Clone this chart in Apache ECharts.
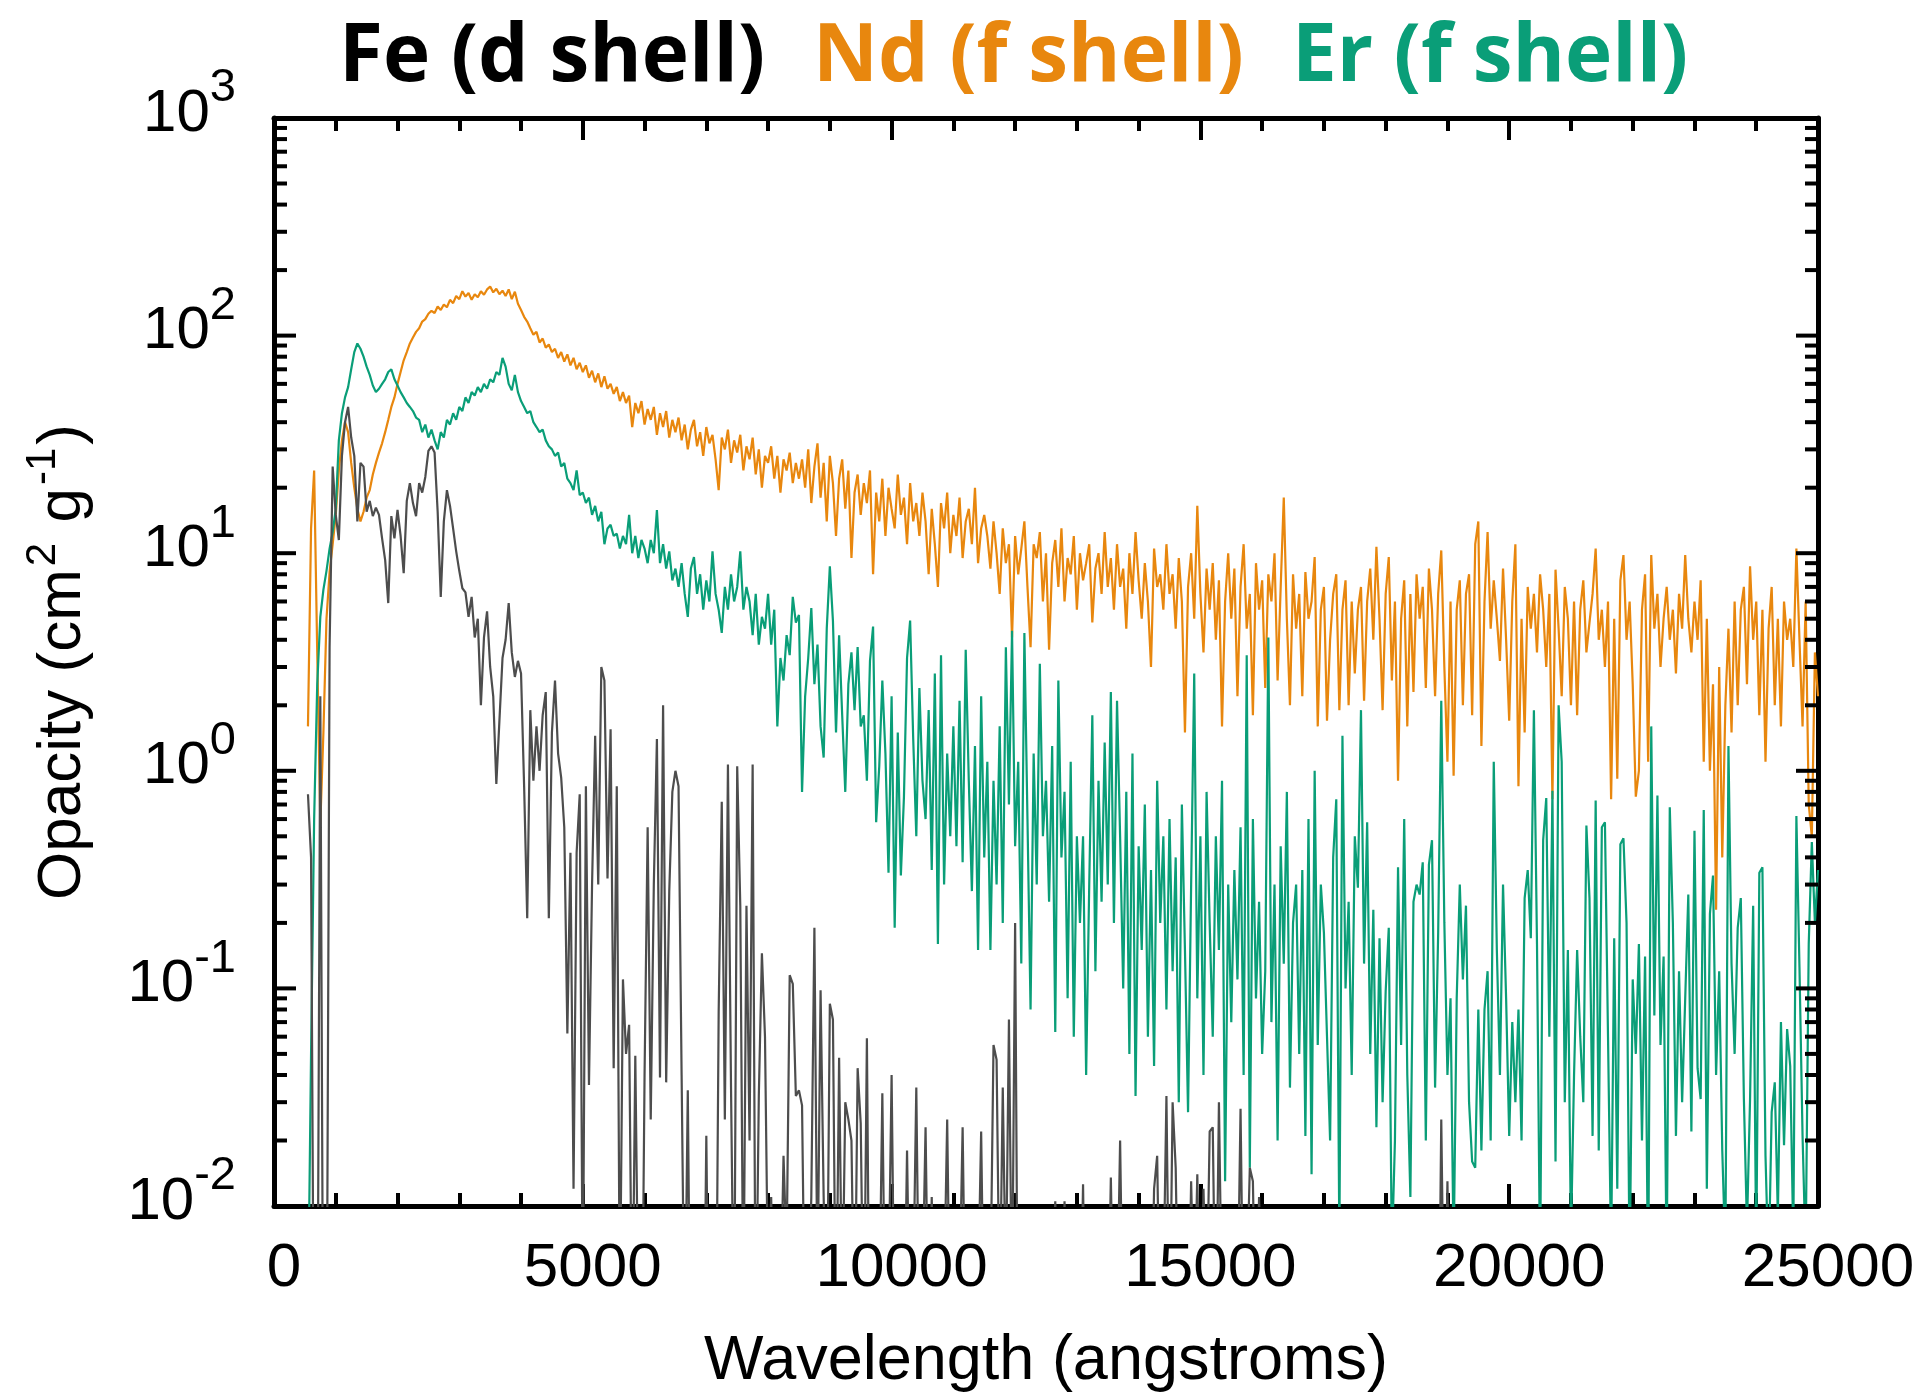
<!DOCTYPE html>
<html>
<head>
<meta charset="utf-8">
<script src="https://cdn.jsdelivr.net/npm/echarts@6/dist/echarts.min.js"></script>
<style>
  html, body { margin: 0; padding: 0; background: #ffffff; }
  #chart { width: 1927px; height: 1396px; }
</style>
</head>
<body>
<div id="chart"></div>
<script>
// Wavelength grid (angstroms): every series is sampled from this start at this spacing
const wavelengthStart = 550;
const wavelengthStep = 50;

// Opacity (cm^2 g^-1), one row per 1000 angstroms
const ndOpacity = [
  1.6, 13, 24, 3.5, 0.57, 1.5, 5, 8.2, 11, 15, 24, 33, 40, 36, 26, 20, 16, 14, 15.5, 18,
  19.5, 23, 26, 29, 32, 36, 41, 47, 52, 60, 68, 77, 84, 92, 98, 104, 108, 116, 119, 126,
  130, 127, 136, 131, 139, 135, 146, 141, 152, 147, 160, 151, 157, 146, 155, 150, 160, 154, 163, 168,
  158, 164, 155, 161, 152, 163, 147, 159, 140, 131, 122, 116, 108, 101, 104, 93, 97, 88, 91, 84,
  87, 79, 84, 76, 82, 73, 79, 70, 75, 68, 73, 64, 69, 61, 67, 58, 65, 57, 60, 54,
  58, 50, 55, 49, 53, 38, 49, 44, 50, 39, 46, 41, 47, 35, 44, 38, 45, 34, 41, 36,
  42, 33, 39, 30, 37, 41, 31, 36, 28, 38, 32, 35, 27, 19.5, 34, 30, 37, 26, 33, 29,
  35, 24, 31, 27, 34, 23, 30, 20, 28, 26, 31, 22, 28, 19, 27, 24, 29, 21, 26, 22,
  27, 20, 30, 17, 25, 32, 18, 26, 14, 28, 21, 12, 22, 27, 16, 24, 9.5, 19, 23, 15,
  21, 17, 24, 8, 19, 14, 22, 12, 20, 16, 13, 23, 15, 18, 11, 21, 14, 17, 12, 19,
  14, 8, 16, 11, 7, 17, 13, 19, 10, 15, 12, 18, 9.5, 14, 16, 11, 20, 9, 13, 15,
  12, 8.5, 14, 10, 6.5, 13, 9, 11, 4.1, 12, 8, 10.5, 14, 7, 3.7, 11, 9.5, 12.5, 6, 10,
  3.6, 9, 11.5, 7, 13, 6, 9.5, 8, 12, 5.5, 10, 7.5, 9, 11, 4.8, 8.5, 10, 6.5, 12.5, 7,
  9.5, 5.5, 11, 7, 8.5, 4.5, 10, 6.5, 12.5, 7.5, 5, 9, 6, 3, 10.5, 7, 8, 5.5, 11, 6.5,
  8, 4.5, 9.5, 6, 1.5, 7, 10, 5, 16.5, 6.5, 3.5, 8.5, 5.5, 9, 4, 7.5, 1.6, 6, 10, 5,
  8.5, 2.2, 7, 11, 4.5, 6.5, 1.8, 9, 5.5, 7.5, 2.4, 8, 6, 10, 2.6, 7, 18, 5, 2, 8,
  4.5, 6.5, 2.2, 8.2, 5, 6, 9.6, 1.6, 5.5, 7, 1.7, 4, 6.5, 8, 1.9, 5.5, 7.5, 2, 6, 2.8,
  5.5, 7, 2.1, 6, 8.5, 4, 10.7, 5, 1.9, 6.5, 9.6, 2.6, 6, 0.9, 5, 7.5, 1.6, 6.5, 2.3, 8,
  5, 7, 2.4, 8.5, 5.5, 2.2, 6.5, 10.3, 3, 1.1, 6, 0.95, 5.5, 7.5, 2, 6.5, 8, 1.8, 11, 14,
  1.3, 6, 12.5, 4.5, 7.5, 5, 3.2, 8.5, 4, 1.7, 6, 11, 0.85, 5, 1.5, 7, 4.5, 6.5, 3.5, 8,
  5.5, 3, 6.5, 0.74, 8.4, 4.5, 2.2, 7, 5, 2.0, 6, 1.8, 5.5, 7.5, 3.5, 4.8, 6.5, 10.5, 4, 5.5,
  3, 6, 0.74, 5, 0.92, 7.5, 9.8, 4, 6, 2.5, 0.76, 1.0, 5.5, 8, 1.1, 9.8, 4.5, 6.5, 3, 5,
  7, 4, 5.5, 2.8, 6.5, 4.5, 9.8, 5, 3.5, 6, 4, 7.5, 1.1, 5, 1.0, 2.5, 0.23, 3, 0.4, 2,
  4.5, 1.5, 6, 2, 5.5, 7, 2.5, 8.7, 4, 6, 1.8, 5.5, 1.1, 4.5, 7, 2, 5, 1.6, 6, 4,
  5, 3, 10.5, 4, 1.6, 6, 0.7, 0.5, 3.5, 2.2
];

const erOpacity = [
  0.003, 0.05, 0.6, 2.5, 5.1, 6.8, 8.3, 10.5, 12.5, 16, 33, 44, 52, 58, 70, 84, 92, 87, 80, 72,
  66, 59, 55, 57, 60, 63, 68, 70, 63, 59, 55, 52, 49, 47, 45, 42, 41, 36, 39, 34,
  37, 33, 30, 36, 34, 41, 39, 44, 41, 47, 45, 52, 49, 55, 53, 58, 55, 60, 57, 63,
  61, 68, 66, 79, 72, 60, 56, 66, 55, 50, 47, 44, 45, 40, 38, 36, 37, 33, 31, 30,
  28, 29, 25, 26, 22, 21, 19.5, 24, 18.5, 19, 17, 18, 15, 16.5, 14, 15.5, 11, 13, 13.5, 12,
  12.3, 10.5, 12, 11, 15, 10, 12, 9.5, 11.5, 10.5, 9, 11.5, 10, 15.8, 9, 11, 8.5, 10.2, 7.5, 8.5,
  7, 9, 6.5, 5.1, 8.5, 9.6, 6.5, 8, 5.5, 7.5, 6, 10.2, 6.5, 5.5, 4.3, 7, 5.5, 8, 6, 7,
  10.2, 5.5, 7, 6, 4.2, 6.5, 3.8, 5.1, 4.5, 6.5, 3.8, 5.5, 1.6, 3.3, 2.6, 4.2, 3.4, 6.3, 4.8, 5.2,
  0.8, 2.2, 3.3, 5.6, 2.5, 3.8, 1.6, 1.15, 4.5, 8.7, 4.9, 1.5, 4.2, 1.8, 0.8, 2.5, 3.5, 1.9, 3.7, 1.6,
  1.8, 0.9, 3.2, 4.6, 0.58, 1.05, 2.6, 1.2, 0.34, 2.2, 0.19, 1.5, 0.33, 0.76, 3.3, 4.9, 1.4, 0.5, 2.4, 0.9,
  0.6, 1.9, 0.35, 2.8, 0.16, 3.4, 0.3, 1.2, 0.5, 1.6, 0.45, 2.1, 0.38, 3.6, 0.9, 0.28, 1.3, 0.15, 2.2, 0.4,
  1.1, 0.15, 0.9, 0.3, 1.6, 0.2, 3.7, 0.7, 4.4, 0.45, 1.1, 0.13, 4.3, 0.6, 0.08, 1.2, 0.3, 3.1, 0.5, 0.9,
  0.25, 1.3, 0.063, 2.6, 0.4, 0.8, 0.09, 1.1, 0.06, 0.5, 0.2, 0.5, 0.04, 0.3, 1.8, 0.12, 0.9, 0.25, 1.35, 0.3,
  2.3, 0.2, 2.1, 0.5, 0.1, 0.8, 0.05, 1.2, 0.032, 0.45, 0.15, 0.7, 0.06, 0.35, 0.044, 0.9, 0.2, 0.5, 0.08, 0.6,
  0.12, 0.4, 0.03, 0.7, 0.15, 0.027, 0.3, 2.8, 0.09, 0.5, 0.04, 0.8, 0.2, 0.06, 0.5, 0.15, 0.9, 0.013, 0.3, 0.07,
  0.35, 0.11, 0.55, 0.04, 3.4, 0.015, 0.6, 0.09, 0.25, 0.05, 0.12, 4.1, 0.07, 0.3, 0.02, 0.45, 0.13, 0.8, 0.035, 0.2,
  0.3, 0.05, 0.35, 0.021, 0.6, 0.014, 1.0, 0.055, 0.3, 0.18, 0.06, 0.02, 0.4, 0.74, 0.007, 1.45, 0.1, 0.25, 0.04, 0.5,
  0.29, 1.9, 0.13, 0.58, 0.05, 0.23, 0.023, 0.17, 0.03, 0.097, 0.19, 0.006, 0.02, 0.36, 0.055, 0.6, 0.04, 0.011, 0.25, 0.3,
  0.27, 0.38, 0.02, 0.37, 0.48, 0.035, 0.18, 2.1, 0.2, 0.04, 0.09, 0.006, 0.09, 0.3, 0.11, 0.24, 0.03, 0.016, 0.015, 0.08,
  0.018, 0.08, 0.12, 0.02, 1.1, 0.15, 0.04, 0.3, 0.09, 0.021, 0.07, 0.03, 0.08, 0.02, 0.26, 0.35, 0.17, 1.9, 0.16, 0.005,
  0.48, 0.75, 0.06, 0.81, 0.016, 2.0, 1.1, 0.03, 0.15, 0.007, 0.04, 0.15, 0.06, 0.03, 0.56, 0.26, 0.021, 0.73, 0.018, 0.55,
  0.58, 0.06, 0.006, 0.17, 0.012, 0.46, 0.49, 0.2, 0.005, 0.11, 0.05, 0.16, 0.02, 0.14, 0.004, 1.6, 0.075, 0.77, 0.055, 0.14,
  0.005, 0.68, 0.2, 0.021, 0.12, 0.03, 0.09, 0.27, 0.022, 0.53, 0.043, 0.031, 0.66, 0.012, 0.22, 0.33, 0.04, 0.12, 0.018, 0.006,
  1.3, 0.13, 0.05, 0.19, 0.26, 0.031, 0.008, 0.031, 0.24, 0.006, 0.34, 0.36, 0.017, 0.005, 0.027, 0.037, 0.009, 0.07, 0.019, 0.065,
  0.044, 0.007, 0.62, 0.125, 0.021, 0.006, 0.16, 0.47, 0.2, 0.35
];

const feOpacity = [
  0.78, 0.4, 0.001, 0.001, 2.2, 0.001, 0.001, 3.7, 25, 15, 11.5, 28, 40, 47, 34, 28, 14, 26, 25, 15.5,
  17.4, 14.8, 16.2, 15, 11.7, 9.3, 5.9, 14.8, 11.7, 15.8, 12, 8.1, 17.4, 21, 17, 14.8, 21, 19, 22.4, 29.5,
  31, 29, 15.5, 6.3, 14, 19.5, 16.5, 13, 10.2, 8.3, 6.9, 6.6, 5.1, 6.3, 4.1, 5.0, 2.0, 4.1, 5.4, 3.0,
  2.2, 0.87, 1.7, 3.3, 4.0, 5.9, 3.5, 2.7, 3.2, 2.8, 0.85, 0.21, 1.9, 0.9, 1.6, 1.0, 1.8, 2.3, 0.21, 1.5,
  2.6, 1.2, 0.93, 0.55, 0.062, 0.42, 0.012, 0.42, 0.78, 0.003, 0.85, 0.036, 0.3, 1.45, 0.3, 3.0, 2.6, 0.32, 1.55, 0.043,
  0.85, 0.003, 0.11, 0.05, 0.068, 0.002, 0.049, 0.003, 0.001, 0.04, 0.55, 0.025, 0.3, 1.4, 0.039, 2.0, 0.037, 0.28, 0.8, 1.0,
  0.85, 0.04, 0.002, 0.034, 0.001, 0.003, 0.001, 0.004, 0.001, 0.021, 0.001, 0.002, 0.001, 0.078, 0.72, 0.025, 1.07, 0.035, 0.002, 1.05,
  0.24, 0.003, 0.24, 0.02, 1.07, 0.002, 0.032, 0.145, 0.06, 0.004, 0.011, 0.002, 0.004, 0.003, 0.017, 0.006, 0.115, 0.105, 0.032, 0.034,
  0.029, 0.002, 0.003, 0.011, 0.19, 0.004, 0.098, 0.011, 0.002, 0.085, 0.072, 0.002, 0.048, 0.003, 0.03, 0.025, 0.02, 0.002, 0.043, 0.024,
  0.002, 0.059, 0.001, 0.002, 0.001, 0.003, 0.033, 0.002, 0.004, 0.04, 0.002, 0.001, 0.003, 0.002, 0.018, 0.002, 0.004, 0.035, 0.002, 0.004,
  0.023, 0.002, 0.011, 0.001, 0.003, 0.002, 0.004, 0.025, 0.002, 0.001, 0.003, 0.004, 0.023, 0.002, 0.001, 0.003, 0.002, 0.004, 0.022, 0.002,
  0.003, 0.004, 0.055, 0.047, 0.003, 0.035, 0.004, 0.072, 0.003, 0.2, 0.001, 0.002, 0.001, 0.003, 0.001, 0.002, 0.001, 0.003, 0.001, 0.002,
  0.001, 0.003, 0.0105, 0.002, 0.001, 0.0105, 0.002, 0.001, 0.003, 0.001, 0.002, 0.0126, 0.001, 0.002, 0.003, 0.001, 0.002, 0.001, 0.003, 0.002,
  0.0135, 0.002, 0.003, 0.02, 0.002, 0.001, 0.003, 0.002, 0.001, 0.004, 0.002, 0.001, 0.003, 0.002, 0.012, 0.017, 0.002, 0.004, 0.032, 0.002,
  0.03, 0.015, 0.002, 0.003, 0.001, 0.002, 0.013, 0.003, 0.014, 0.002, 0.012, 0.003, 0.022, 0.023, 0.002, 0.03, 0.003, 0.001, 0.002, 0.004,
  0.002, 0.003, 0.028, 0.002, 0.004, 0.015, 0.013, 0.002, 0.011, 0.003, 0.001, 0.002, 0.001, 0.003, 0.001, 0.002, 0.001, 0.001, 0.002, 0.001,
  0.001, 0.002, 0.001, 0.001, 0.002, 0.001, 0.001, 0.003, 0.001, 0.001, 0.002, 0.001, 0.001, 0.001, 0.002, 0.001, 0.001, 0.002, 0.001, 0.001,
  0.001, 0.001, 0.002, 0.001, 0.001, 0.001, 0.002, 0.001, 0.001, 0.003, 0.001, 0.001, 0.002, 0.001, 0.001, 0.001, 0.002, 0.001, 0.001, 0.002,
  0.001, 0.001, 0.002, 0.001, 0.001, 0.003, 0.001, 0.025, 0.002, 0.013, 0.001, 0.002, 0.001, 0.001, 0.002, 0.001, 0.001, 0.002, 0.001, 0.001
];

// Axis ranges and tick labels
const xTickValues = [0, 5000, 10000, 15000, 20000, 25000];
const yDecadeExponents = [-2, -1, 0, 1, 2, 3];
const xAxisTitle = 'Wavelength (angstroms)';

const colors = { fe: '#4d4d4d', nd: '#e8870e', er: '#0a9e78' };
const labelFont = 'Liberation Sans';

// Plot area in pixels
const plot = { left: 274, top: 118, width: 1544, height: 1088 };

function toPairs(values) {
  return values.map((v, i) => [wavelengthStart + i * wavelengthStep, v]);
}

// Log-axis ticks: a long tick at each decade, short ticks at 2..9 times the decade
const yTickMarks = [];
yDecadeExponents.forEach((e) => {
  const decade = Math.pow(10, e);
  yTickMarks.push([0, decade, 1]);
  if (e < yDecadeExponents[yDecadeExponents.length - 1]) {
    for (let m = 2; m <= 9; m++) yTickMarks.push([0, m * decade, 0]);
  }
});

const chart = echarts.init(document.getElementById('chart'), null, { renderer: 'canvas' });

const frameLine = { show: true, onZero: false, lineStyle: { color: '#000', width: 5 } };
const xTickStyle = { show: true, inside: true, length: 22, lineStyle: { color: '#000', width: 4 } };
const xMinorStyle = { show: true, splitNumber: 5, length: 13, lineStyle: { color: '#000', width: 4 } };
const titleFont = { fontFamily: 'Open Sans', fontWeight: 'bold', fontSize: 80 };

const option = {
  animation: false,
  backgroundColor: '#ffffff',
  title: {
    text: '{fe|Fe (d shell)}{gap|}{nd|Nd (f shell)}{gap|}{er|Er (f shell)}',
    left: 334,
    top: 13,
    textStyle: {
      rich: {
        fe: Object.assign({ color: '#000000' }, titleFont),
        nd: Object.assign({ color: colors.nd }, titleFont),
        er: Object.assign({ color: colors.er }, titleFont),
        gap: { width: 48 }
      }
    }
  },
  // wavelength axis title, centred under the plot
  graphic: [
    {
      type: 'text',
      x: plot.left + plot.width / 2,
      y: 1362,
      silent: true,
      style: {
        text: xAxisTitle,
        fill: '#000',
        fontFamily: labelFont,
        fontSize: 63,
        align: 'center',
        verticalAlign: 'middle'
      }
    }
  ],
  grid: {
    left: plot.left, top: plot.top, width: plot.width, height: plot.height,
    containLabel: false, outerBoundsMode: 'none'
  },
  xAxis: [
    {
      type: 'value', position: 'bottom', min: 0, max: 25000, interval: 5000,
      axisLine: frameLine, axisTick: xTickStyle, minorTick: xMinorStyle,
      splitLine: { show: false }, minorSplitLine: { show: false },
      axisLabel: {
        margin: 32, color: '#000', fontFamily: labelFont, fontSize: 62,
        padding: [0, 0, 0, 20],
        formatter: (v) => (xTickValues.indexOf(v) >= 0 ? String(v) : '')
      }
    },
    {
      type: 'value', position: 'top', min: 0, max: 25000, interval: 5000,
      axisLine: frameLine, axisTick: xTickStyle, minorTick: xMinorStyle,
      splitLine: { show: false }, axisLabel: { show: false }
    }
  ],
  yAxis: [
    {
      type: 'log', logBase: 10, min: 0.01, max: 1000, position: 'left',
      axisLine: frameLine, axisTick: { show: false }, splitLine: { show: false },
      axisLabel: {
        margin: 38,
        padding: [0, 0, 8, 0],
        formatter: (v) => '{b|10}{e|' + Math.round(Math.log10(v)) + '}',
        rich: {
          b: { fontFamily: labelFont, fontSize: 60, color: '#000', lineHeight: 60, verticalAlign: 'bottom' },
          e: { fontFamily: labelFont, fontSize: 47, color: '#000', lineHeight: 48, padding: [0, 0, 32, 0], verticalAlign: 'bottom' }
        }
      },
      name: '{n|Opacity (cm}{s|2}{n| g}{s|-1}{n|)}',
      nameLocation: 'middle', nameRotate: 90, nameGap: 180,
      nameMoveOverlap: false,
      nameTextStyle: {
        rich: {
          n: { fontFamily: labelFont, fontSize: 62, color: '#000', lineHeight: 64, verticalAlign: 'bottom' },
          s: { fontFamily: labelFont, fontSize: 42, color: '#000', lineHeight: 44, padding: [0, 3, 30, 3], verticalAlign: 'bottom' }
        }
      }
    },
    {
      type: 'log', logBase: 10, min: 0.01, max: 1000, position: 'right',
      axisLine: frameLine, axisTick: { show: false }, splitLine: { show: false },
      axisLabel: { show: false }
    }
  ],
  series: [
    {
      name: 'Nd (f shell)', type: 'line', data: toPairs(ndOpacity),
      showSymbol: false, symbol: 'none', clip: true,
      lineStyle: { color: colors.nd, width: 2.2 }, z: 2
    },
    {
      name: 'Er (f shell)', type: 'line', data: toPairs(erOpacity),
      showSymbol: false, symbol: 'none', clip: true,
      lineStyle: { color: colors.er, width: 2.2 }, z: 3
    },
    {
      name: 'Fe (d shell)', type: 'line', data: toPairs(feOpacity),
      showSymbol: false, symbol: 'none', clip: true,
      lineStyle: { color: colors.fe, width: 2.2 }, z: 4
    },
    {
      // tick marks of the logarithmic opacity axis, drawn inside on both sides
      type: 'custom', data: yTickMarks, silent: true, z: 10, clip: false,
      renderItem: (params, api) => {
        const cs = params.coordSys;
        const y = api.coord([0, api.value(1)])[1];
        const len = api.value(2) ? 22 : 13;
        const st = { stroke: '#000', lineWidth: 4 };
        return {
          type: 'group',
          children: [
            { type: 'line', shape: { x1: cs.x, y1: y, x2: cs.x + len, y2: y }, style: st },
            { type: 'line', shape: { x1: cs.x + cs.width, y1: y, x2: cs.x + cs.width - len, y2: y }, style: st }
          ]
        };
      }
    }
  ]
};

chart.setOption(option);
</script>
</body>
</html>
